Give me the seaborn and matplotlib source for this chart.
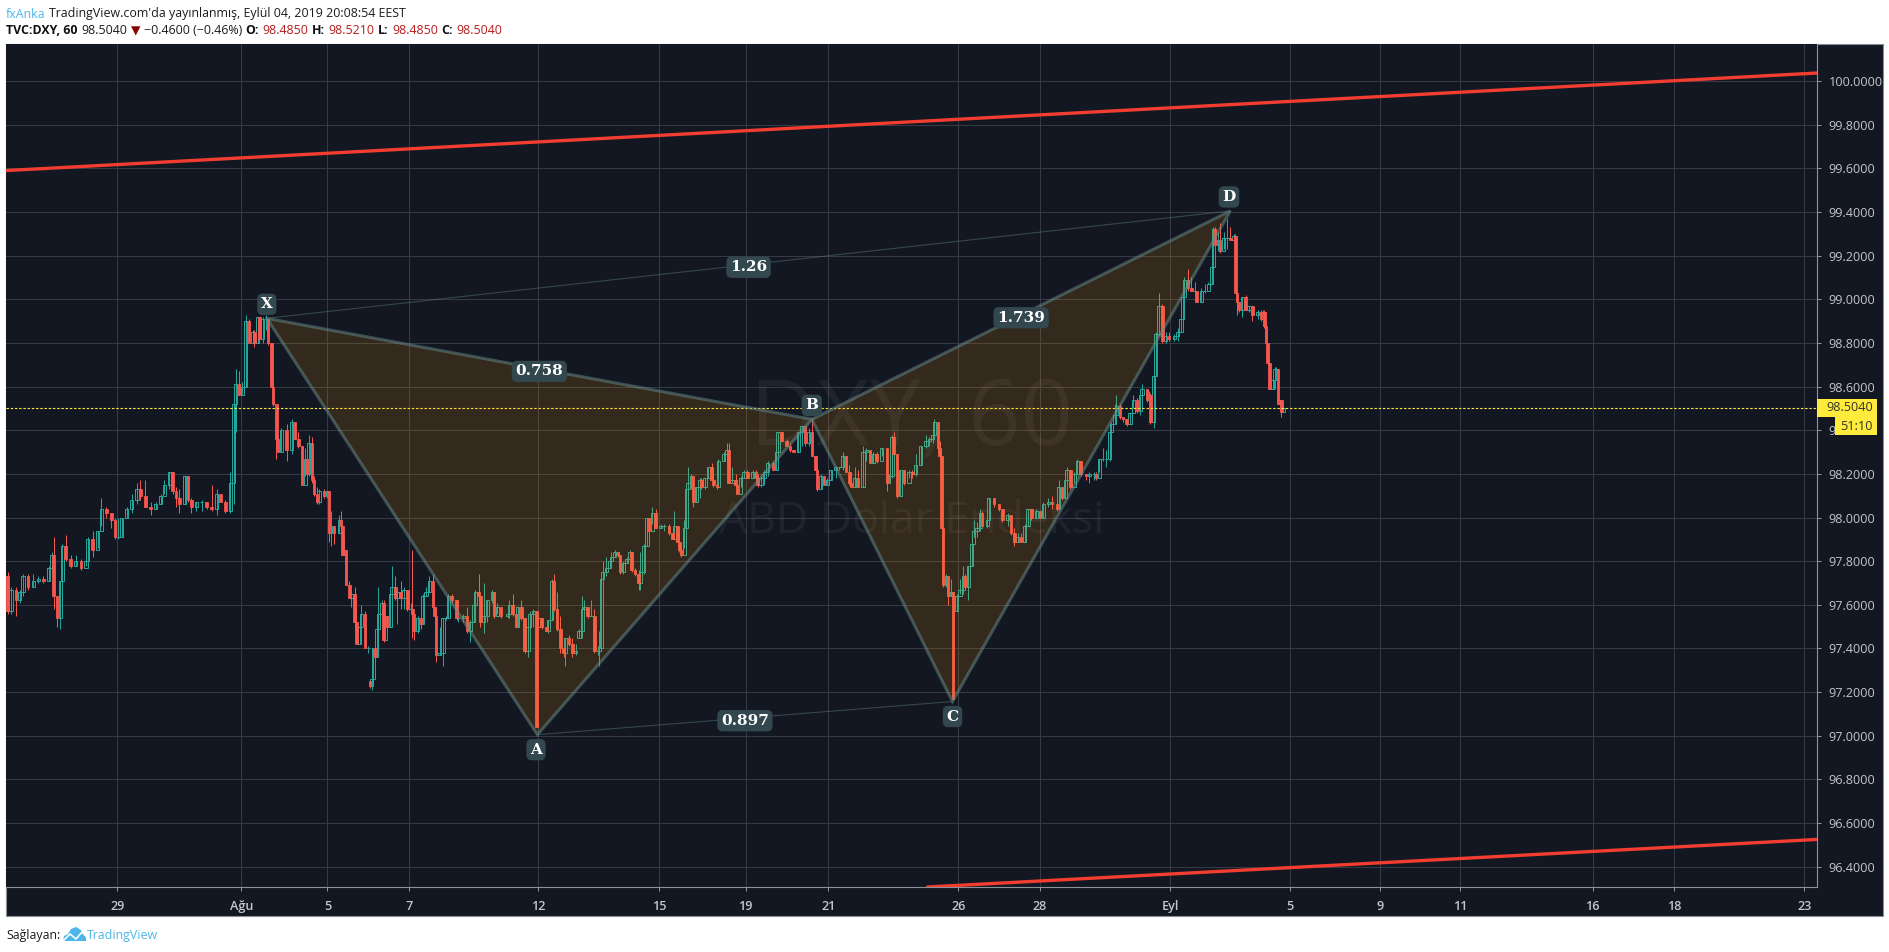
import matplotlib
matplotlib.use("Agg")
import matplotlib.pyplot as plt
from matplotlib.patches import Rectangle, Polygon
from matplotlib.lines import Line2D
import numpy as np
import pandas as pd
import seaborn as sns

# Hourly bar numbers and prices of the DXY candles, late July to early September 2019
first_open = 97.73
bar_jul = [1,3,6,8,10,13,16,19,22,25,
 27,28,30,32,33,35,38,41,44,47,
 48,51,54,56,59,62,64,66,68,71,
 74,77,79,82,85,88,91,93,96,98,
 100,102,105,107,109,112,115,118,121,124,
 126,129,132,134,135,137,139,141,143,145,
 146,148,149,151,153,154,156,157,159,160,
 162,165,168,170,172,174,176,177,178,180,
 181,183]
close_jul = [97.57,97.67,97.62,97.66,97.73,97.68,97.71,97.72,97.71,97.77,
 97.83,97.64,97.54,97.71,97.87,97.81,97.78,97.80,97.77,97.80,
 97.90,97.85,97.94,98.04,98.02,97.99,97.91,97.91,98.00,98.04,
 98.08,98.13,98.10,98.05,98.04,98.06,98.10,98.15,98.21,98.12,
 98.09,98.06,98.19,98.08,98.05,98.07,98.07,98.05,98.04,98.11,
 98.07,98.03,98.16,98.52,98.61,98.56,98.60,98.90,98.80,98.85,
 98.80,98.92,98.82,98.91,98.91,98.80,98.60,98.52,98.36,98.30,
 98.40,98.31,98.44,98.36,98.33,98.15,98.27,98.20,98.34,98.17,
 98.11,98.07]
high_jul = [97.75,97.68,97.68,97.67,97.74,97.74,97.74,97.73,97.73,97.78,
 97.84,97.91,97.64,97.71,97.88,97.92,97.83,97.83,97.81,97.81,
 97.91,97.94,97.94,98.09,98.05,98.02,98.00,98.00,98.00,98.05,
 98.11,98.16,98.17,98.17,98.07,98.07,98.11,98.17,98.21,98.21,
 98.14,98.13,98.19,98.19,98.09,98.07,98.08,98.07,98.15,98.13,
 98.11,98.08,98.21,98.52,98.68,98.67,98.62,98.93,98.91,98.86,
 98.86,98.92,98.92,98.92,98.93,98.91,98.80,98.62,98.52,98.37,
 98.41,98.43,98.45,98.44,98.39,98.33,98.32,98.28,98.38,98.37,
 98.19,98.14]
low_jul = [97.56,97.56,97.55,97.61,97.64,97.67,97.68,97.70,97.70,97.71,
 97.75,97.58,97.50,97.49,97.71,97.80,97.77,97.78,97.76,97.78,
 97.80,97.82,97.86,97.96,98.00,97.95,97.90,97.90,97.91,98.00,
 98.02,98.06,98.08,98.05,98.01,98.04,98.06,98.11,98.13,98.11,
 98.05,98.02,98.06,98.07,98.02,98.03,98.03,98.04,98.03,98.01,
 98.07,98.02,98.02,98.06,98.39,98.56,98.56,98.60,98.80,98.80,
 98.78,98.80,98.81,98.80,98.86,98.79,98.60,98.51,98.27,98.30,
 98.30,98.26,98.29,98.36,98.32,98.15,98.19,98.18,98.19,98.16,
 98.10,98.06]

bar_aug_a = [184,187,189,190,191,193,196,197,198,199,
 200,202,203,205,206,208,209,211,213,214,
 215,216,217,218,219,221,222,223,224,226,
 227,229,230,232,234,236,238,239,240,242,
 244,245,247,249,251,252,253,255,257,259,
 260,262,265,266,269,271,273,275,276,278,
 279,281,283,286,287,289,291,295,296,298,
 300,301,303,305,307,308,310,312,313,315,
 318,319,321,322,324,326,328,329,331,333,
 335,337,339,340,342,344,346,348,349,350,
 351,353,355,356,358,360,361,363,365,367]
close_aug_a = [98.12,98.10,98.12,97.93,97.96,97.93,97.99,97.96,97.83,97.85,
 97.69,97.63,97.65,97.52,97.42,97.50,97.56,97.40,97.40,97.23,
 97.26,97.40,97.36,97.49,97.56,97.61,97.44,97.55,97.50,97.65,
 97.68,97.63,97.66,97.63,97.67,97.58,97.58,97.56,97.48,97.54,
 97.51,97.64,97.66,97.71,97.59,97.55,97.37,97.38,97.54,97.54,
 97.64,97.62,97.54,97.54,97.55,97.48,97.52,97.60,97.66,97.64,
 97.52,97.55,97.62,97.66,97.55,97.59,97.55,97.56,97.60,97.56,
 97.50,97.59,97.54,97.39,97.50,97.56,97.57,97.04,97.54,97.50,
 97.48,97.53,97.71,97.58,97.49,97.40,97.38,97.45,97.42,97.38,
 97.39,97.48,97.58,97.59,97.55,97.55,97.39,97.39,97.40,97.72,
 97.75,97.77,97.80,97.82,97.84,97.83,97.75,97.79,97.81,97.84]
high_aug_a = [98.13,98.13,98.12,98.11,98.03,97.96,98.01,98.03,97.96,97.90,
 97.85,97.71,97.66,97.68,97.62,97.51,97.60,97.57,97.41,97.26,
 97.27,97.40,97.40,97.50,97.68,97.62,97.62,97.55,97.55,97.68,
 97.78,97.73,97.67,97.71,97.68,97.64,97.61,97.85,97.56,97.55,
 97.55,97.65,97.68,97.73,97.74,97.59,97.58,97.50,97.54,97.55,
 97.65,97.65,97.62,97.56,97.56,97.59,97.53,97.61,97.67,97.74,
 97.64,97.70,97.62,97.67,97.66,97.61,97.59,97.58,97.62,97.65,
 97.59,97.59,97.62,97.54,97.50,97.57,97.58,97.57,97.55,97.51,
 97.51,97.53,97.72,97.74,97.66,97.55,97.41,97.45,97.46,97.45,
 97.42,97.49,97.64,97.62,97.59,97.62,97.58,97.41,97.48,97.73,
 97.80,97.82,97.82,97.84,97.85,97.84,97.81,97.80,97.82,97.85]
low_aug_a = [98.06,98.09,98.09,97.89,97.87,97.88,97.93,97.93,97.83,97.83,
 97.69,97.63,97.59,97.49,97.42,97.42,97.49,97.40,97.38,97.22,
 97.21,97.26,97.35,97.36,97.49,97.56,97.43,97.44,97.50,97.50,
 97.64,97.62,97.51,97.58,97.58,97.57,97.57,97.45,97.44,97.47,
 97.49,97.51,97.64,97.66,97.58,97.54,97.34,97.37,97.32,97.53,
 97.54,97.61,97.53,97.52,97.52,97.47,97.43,97.52,97.56,97.62,
 97.50,97.47,97.52,97.61,97.54,97.56,97.54,97.54,97.54,97.55,
 97.50,97.50,97.53,97.38,97.36,97.49,97.50,97.04,97.50,97.49,
 97.48,97.47,97.53,97.57,97.48,97.38,97.36,97.32,97.41,97.36,
 97.37,97.45,97.45,97.58,97.54,97.55,97.38,97.37,97.32,97.39,
 97.72,97.73,97.77,97.80,97.82,97.82,97.74,97.74,97.79,97.81]

bar_aug_b = [368,370,372,373,375,377,378,380,382,385,
 387,390,392,393,395,396,397,399,400,401,
 403,404,406,408,409,411,413,415,416,418,
 419,422,424,425,427,429,430,432,434,436,
 439,441,442,444,446,448,451,453,454,456,
 459,461,463,466,468,470,472,474,476,477,
 479,481,483,485,488,490,492,494,496,497,
 499,501,504,506,508,510,512,515,518,519,
 521,522,524,526,528,531,533,535,538,541,
 543,545,546,548,549]
close_aug_b = [97.76,97.74,97.70,97.75,97.87,98.00,97.94,98.02,97.95,97.96,
 97.96,97.93,97.90,97.96,97.89,97.85,97.83,97.95,98.13,98.16,
 98.19,98.07,98.14,98.17,98.14,98.18,98.23,98.17,98.15,98.14,
 98.26,98.29,98.31,98.16,98.17,98.15,98.11,98.18,98.21,98.18,
 98.21,98.18,98.15,98.18,98.21,98.25,98.22,98.30,98.39,98.35,
 98.33,98.31,98.30,98.39,98.42,98.34,98.39,98.28,98.22,98.13,
 98.19,98.15,98.17,98.22,98.23,98.23,98.28,98.21,98.16,98.14,
 98.18,98.14,98.30,98.31,98.25,98.29,98.26,98.32,98.16,98.19,
 98.37,98.29,98.10,98.22,98.16,98.21,98.20,98.24,98.33,98.35,
 98.36,98.38,98.44,98.32,98.28]
high_aug_b = [97.84,97.77,97.76,97.84,97.88,98.00,98.00,98.05,98.04,97.97,
 97.97,97.97,97.93,98.03,97.96,97.93,97.87,97.99,98.13,98.23,
 98.20,98.19,98.14,98.18,98.18,98.18,98.23,98.25,98.20,98.16,
 98.27,98.30,98.34,98.34,98.23,98.20,98.15,98.19,98.22,98.22,
 98.22,98.22,98.20,98.20,98.22,98.26,98.26,98.31,98.39,98.39,
 98.36,98.34,98.31,98.39,98.42,98.42,98.41,98.45,98.28,98.23,
 98.20,98.19,98.18,98.22,98.23,98.23,98.30,98.28,98.24,98.21,
 98.23,98.22,98.33,98.32,98.30,98.30,98.30,98.32,98.32,98.20,
 98.38,98.39,98.28,98.22,98.22,98.22,98.22,98.29,98.33,98.38,
 98.37,98.39,98.45,98.44,98.35]
low_aug_b = [97.75,97.73,97.67,97.67,97.74,97.87,97.93,97.97,97.95,97.95,
 97.94,97.92,97.90,97.90,97.89,97.84,97.82,97.86,97.95,98.12,
 98.13,98.05,98.07,98.09,98.13,98.13,98.18,98.17,98.14,98.13,
 98.14,98.26,98.25,98.16,98.16,98.14,98.11,98.14,98.18,98.18,
 98.18,98.18,98.14,98.14,98.15,98.19,98.22,98.22,98.29,98.35,
 98.33,98.30,98.30,98.30,98.33,98.33,98.33,98.28,98.22,98.12,
 98.13,98.15,98.15,98.17,98.18,98.22,98.22,98.21,98.15,98.14,
 98.14,98.14,98.14,98.26,98.25,98.25,98.25,98.28,98.12,98.16,
 98.18,98.28,98.09,98.10,98.15,98.18,98.18,98.19,98.24,98.32,
 98.33,98.34,98.36,98.31,98.27]

bar_sep = [550,551,553,554,556,557,559,561,563,564,
 566,568,569,571,573,574,577,578,581,584,
 586,589,591,593,595,597,599,601,603,606,
 608,610,613,615,618,619,621,623,624,626,
 628,630,632,635,637,640,641,643,645,647,
 649,650,652,653,655,657,659,661,663,665,
 667,668,671,672,673,675,676,678,680,682,
 684,687,689,691,692,693,695,697,699,700,
 703,705,707,709,710,711,713,714,716,718,
 720,722,723,724,725,727,729,731,733,736,
 738,739,740,741,742,743,745,746,747,748,
 749,750,751]
close_sep = [97.95,97.69,97.73,97.64,97.66,97.17,97.64,97.67,97.73,97.68,
 97.78,97.88,97.94,97.95,98.02,97.96,97.99,98.09,98.06,98.04,
 97.99,98.01,97.93,97.89,97.91,97.89,97.96,98.04,98.00,98.03,
 98.00,98.06,98.07,98.06,98.04,98.14,98.09,98.17,98.22,98.14,
 98.20,98.26,98.20,98.19,98.20,98.20,98.18,98.27,98.27,98.27,
 98.39,98.43,98.47,98.51,98.46,98.45,98.43,98.48,98.54,98.49,
 98.56,98.59,98.54,98.56,98.44,98.65,98.84,98.97,98.81,98.83,
 98.82,98.83,98.85,98.91,99.01,99.09,99.05,99.04,99.04,98.99,
 99.04,99.04,99.07,99.15,99.32,99.25,99.27,99.22,99.28,99.28,
 99.27,99.29,99.03,98.99,98.95,99.01,98.95,98.97,98.93,98.94,
 98.91,98.94,98.88,98.80,98.71,98.59,98.63,98.68,98.68,98.52,
 98.54,98.485,98.504]
high_sep = [98.32,97.95,97.74,97.73,97.72,97.66,97.65,97.72,97.78,97.74,
 97.78,97.89,97.99,97.98,98.04,98.03,98.00,98.09,98.09,98.06,
 98.04,98.02,98.01,97.95,97.93,97.93,97.97,98.04,98.04,98.04,
 98.03,98.07,98.09,98.10,98.07,98.17,98.14,98.18,98.23,98.21,
 98.21,98.27,98.26,98.20,98.21,98.21,98.21,98.27,98.32,98.31,
 98.40,98.44,98.52,98.56,98.52,98.46,98.45,98.48,98.56,98.55,
 98.57,98.61,98.59,98.58,98.57,98.65,98.85,99.03,98.98,98.85,
 98.85,98.84,98.87,98.92,99.01,99.10,99.14,99.10,99.08,99.04,
 99.05,99.07,99.08,99.15,99.33,99.33,99.31,99.35,99.31,99.37,
 99.33,99.30,99.30,99.04,98.99,99.01,99.02,98.97,98.97,98.95,
 98.95,98.95,98.95,98.88,98.80,98.73,98.64,98.69,98.69,98.68,
 98.54,98.53,98.521]
low_sep = [97.95,97.68,97.68,97.60,97.64,97.17,97.57,97.65,97.65,97.67,
 97.62,97.78,97.91,97.91,97.94,97.95,97.95,97.99,98.05,98.03,
 97.98,97.96,97.92,97.87,97.89,97.89,97.89,97.96,97.99,98.00,
 98.00,98.00,98.05,98.04,98.03,98.04,98.08,98.09,98.16,98.13,
 98.16,98.20,98.19,98.17,98.16,98.17,98.17,98.21,98.26,98.23,
 98.26,98.38,98.43,98.47,98.45,98.44,98.42,98.43,98.50,98.48,
 98.47,98.53,98.53,98.51,98.43,98.41,98.65,98.83,98.80,98.80,
 98.81,98.81,98.81,98.85,98.91,99.01,99.04,99.04,99.02,98.99,
 98.99,99.03,99.07,99.07,99.15,99.25,99.22,99.21,99.23,99.23,
 99.27,99.27,99.03,98.93,98.94,98.92,98.95,98.94,98.90,98.91,
 98.90,98.93,98.87,98.80,98.70,98.59,98.59,98.59,98.67,98.52,
 98.49,98.46,98.485]

# Bars that open away from the previous close
gap_opens = {214: 97.25, 313: 97.50, 337: 97.45, 559: 97.57}

# Axis scale
bar_span = (0, 1065)
price_span = (96.307, 100.17)
tick_bars = [65.5, 138.4, 189, 237, 313, 384, 435, 483.6, 560, 608, 684.5, 755, 808, 855, 933, 981, 1057.5]
tick_names = ["29", "Ağu", "5", "7", "12", "15", "19", "21", "26", "28", "Eyl", "5", "9", "11", "16", "18", "23"]
price_ticks = [96.4, 96.6, 96.8, 97.0, 97.2, 97.4, 97.6, 97.8, 98.0, 98.2, 98.4, 98.6, 98.8, 99.0, 99.2, 99.4, 99.6, 99.8, 100.0]

# Harmonic pattern pivots (bar number, price)
pivot_names = ["X", "A", "B", "C", "D"]
pivot_bars = [153.4, 312.5, 473.9, 556.6, 720.0]
pivot_prices = [98.913, 97.005, 98.45, 97.157, 99.405]
leg_ratios = {"0.758": ("X", "B"), "1.26": ("X", "D"), "1.739": ("B", "D"), "0.897": ("A", "C")}

# Hand-drawn channel lines
upper_line_bars, upper_line_prices = [0, 1065], [99.59, 100.037]
lower_line_bars, lower_line_prices = [542, 1065], [96.307, 96.525]

last_price = 98.504

BG = "#131722"
GRID = "#363a45"
AXIS = "#8f929b"
TEXT = "#c4c6cd"
UP = "#26a69a"
DOWN = "#f6564e"
YELLOW = "#ffeb3b"
TV_BLUE = "#4db6e8"
PAT_FILL = "#ff9800"
PAT_LINE = "#668e8b"

sns.set_theme(style="dark", rc={"axes.facecolor": BG, "figure.facecolor": "white"})
plt.rcParams["font.family"] = ["Open Sans", "DejaVu Sans"]

W, H = 1890, 952
fig = plt.figure(figsize=(W / 100, H / 100), dpi=100)


def fx(px):
    return px / W


def fy(py):
    return 1 - py / H


# Dark chart panel behind the plot and both scales
fig.add_artist(Rectangle((fx(6), fy(915.5)), fx(1877), 871.5 / H, transform=fig.transFigure,
                         fc=BG, ec="#8a8d94", lw=0.8, zorder=0))

ax = fig.add_axes([fx(6), fy(887), fx(1811), 843 / H], zorder=1)
ax.set_facecolor(BG)
ax.set_xlim(*bar_span)
ax.set_ylim(*price_span)

bars = np.array(bar_jul + bar_aug_a + bar_aug_b + bar_sep, dtype=float)
closes = np.array(close_jul + close_aug_a + close_aug_b + close_sep)
highs = np.array(high_jul + high_aug_a + high_aug_b + high_sep)
lows = np.array(low_jul + low_aug_a + low_aug_b + low_sep)
opens = np.r_[first_open, closes[:-1]]
for b, o in gap_opens.items():
    opens[bars == b] = o
candles = pd.DataFrame({"bar": bars, "open": opens, "high": highs, "low": lows, "close": closes})
rising = candles[candles.close >= candles.open]
falling = candles[candles.close < candles.open]

ax.set_axisbelow(True)
ax.grid(True, color=GRID, lw=0.72)

# Faint symbol watermark
ax.text(0.5, 0.552, "DXY, 60", transform=ax.transAxes, ha="center", va="center",
        fontsize=66, color="white", alpha=0.055, zorder=1)
ax.text(0.5, 0.433, "ABD Dolar Endeksi", transform=ax.transAxes, ha="center", va="center",
        fontsize=32, color="white", alpha=0.055, zorder=1)

# Candles: thin wicks, hollow rising bodies, solid falling bodies
ax.vlines(rising.bar, rising.low, rising.high, color=UP, lw=0.72, zorder=2)
ax.vlines(falling.bar, falling.low, falling.high, color=DOWN, lw=0.72, zorder=2)
ax.bar(rising.bar, rising.close - rising.open, bottom=rising.open, width=1.9,
       facecolor="none", edgecolor=UP, linewidth=0.72, zorder=3)
ax.bar(falling.bar, falling.open - falling.close, bottom=falling.close, width=1.5,
       facecolor=DOWN, edgecolor=DOWN, linewidth=0.6, zorder=3)

# Last price marker line
ax.axhline(last_price, color=YELLOW, lw=0.8, ls=(0, (2.2, 1.6)), zorder=4)

# Pattern triangles and their legs
pivots = {n: (b, p) for n, b, p in zip(pivot_names, pivot_bars, pivot_prices)}
for tri in (("X", "A", "B"), ("B", "C", "D")):
    pts = [pivots[n] for n in tri]
    ax.fill([q[0] for q in pts], [q[1] for q in pts], color=PAT_FILL, alpha=0.14, lw=0, zorder=5)
    closed = pts + pts[:1]
    ax.plot([q[0] for q in closed], [q[1] for q in closed], color=PAT_LINE, alpha=0.5, lw=2.2,
            solid_joinstyle="miter", zorder=6)
for a, b in (("X", "D"), ("A", "C")):
    ax.plot([pivots[a][0], pivots[b][0]], [pivots[a][1], pivots[b][1]], color=PAT_LINE, alpha=0.4, lw=0.8, zorder=6)

label_box = dict(boxstyle="round,pad=0.24,rounding_size=0.35", fc="#33474e", ec="none")
for text, (a, b) in leg_ratios.items():
    ax.text((pivots[a][0] + pivots[b][0]) / 2, (pivots[a][1] + pivots[b][1]) / 2 - 0.012, text,
            family="DejaVu Serif", weight="bold", color="white", fontsize=11,
            ha="center", va="center", bbox=label_box, zorder=8)
for name, shift in zip(pivot_names, [14, -15, 14, -15, 14]):
    ax.annotate(name, pivots[name], xytext=(-1 if name in "AD" else 0, shift * 0.72), textcoords="offset points",
                family="DejaVu Serif", weight="bold", color="white", fontsize=11,
                ha="center", va="center", bbox=label_box, zorder=8)

# Channel lines
sns.lineplot(x=upper_line_bars, y=upper_line_prices, color="#f23d30", lw=2.4, ax=ax, zorder=7, legend=False)
sns.lineplot(x=lower_line_bars, y=lower_line_prices, color="#f23d30", lw=2.4, ax=ax, zorder=7, legend=False)
ax.set(xlabel="", ylabel="")

# Scales
ax.set_xticks(tick_bars)
ax.set_xticklabels(tick_names, weight="semibold")
ax.set_yticks(price_ticks)
ax.set_yticklabels([f"{p:.4f}" for p in price_ticks])
ax.yaxis.tick_right()
ax.tick_params(axis="both", colors=AXIS, labelcolor=TEXT, length=3, width=0.72, labelsize=9.1, bottom=True, right=True, left=False)
ax.tick_params(axis="y", pad=5.5)
ax.tick_params(axis="x", pad=6.5)
for side, spine in ax.spines.items():
    spine.set_visible(side in ("bottom", "right"))
    spine.set_color(AXIS)
    spine.set_linewidth(0.8)

# Last price and countdown tags on the price scale
yt = ax.get_yaxis_transform()
tag_h = 18 * (price_span[1] - price_span[0]) / 843
ax.add_patch(Rectangle((1, last_price - tag_h / 2), 60 / 1811, tag_h, transform=yt, fc=YELLOW, ec="none",
                       clip_on=False, zorder=9))
ax.text(1 + 9.5 / 1811, last_price, f"{last_price:.4f}", transform=yt, color="#33332a", fontsize=9.1,
        ha="left", va="center", clip_on=False, zorder=10)
ax.add_patch(Rectangle((1 + 18 / 1811, last_price - 1.55 * tag_h), 42 / 1811, tag_h, transform=yt, fc=YELLOW,
                       ec="none", clip_on=False, zorder=9))
ax.text(1 + 39 / 1811, last_price - 1.05 * tag_h, "51:10", transform=yt, color="#33332a", fontsize=9.1,
        ha="center", va="center", clip_on=False, zorder=10)

# Header and footer rows
renderer = fig.canvas.get_renderer()


def text_row(x, y, runs, size=8.9):
    for s, color, weight in runs:
        t = fig.text(fx(x), fy(y), s, color=color, weight=weight, fontsize=size, ha="left", va="center_baseline")
        x = t.get_window_extent(renderer).x1 + size * 0.4


DARK_RED = "#b71c1c"
text_row(6, 12.5, [("fxAnka", TV_BLUE, "normal"),
                   ("TradingView.com'da yayınlanmış, Eylül 04, 2019 20:08:54 EEST", "#1c1c1c", "normal")])
text_row(6, 29.5, [("TVC:DXY, 60", "#111111", "bold"), ("98.5040", "#1c1c1c", "normal"), ("▼", "#8b0000", "normal"),
                   ("−0.4600 (−0.46%)", "#1c1c1c", "normal"), ("O:", "#111111", "bold"), ("98.4850", DARK_RED, "normal"),
                   ("H:", "#111111", "bold"), ("98.5210", DARK_RED, "normal"), ("L:", "#111111", "bold"),
                   ("98.4850", DARK_RED, "normal"), ("C:", "#111111", "bold"), ("98.5040", DARK_RED, "normal")])
fig.text(fx(6), fy(933.5), "Sağlayan:", color="#1c1c1c", fontsize=8.9, ha="left", va="center_baseline")
fig.text(fx(87), fy(933.5), "TradingView", color=TV_BLUE, fontsize=8.9, ha="left", va="center_baseline")

# Cloud logo next to the provider name
cloud = [(63, 941), (64, 936), (68, 934), (71, 929), (76, 927), (81, 930), (83, 934), (86, 937), (86, 941)]
fig.add_artist(Polygon([(fx(a), fy(b)) for a, b in cloud], transform=fig.transFigure, fc=TV_BLUE, ec="none"))
zig = [(63, 941), (70, 934), (76, 939), (82, 932), (86, 936)]
fig.add_artist(Line2D([fx(a) for a, _ in zig], [fy(b) for _, b in zig], transform=fig.transFigure, color="white", lw=1.2))

fig.savefig("out.png", dpi=100, facecolor="white")
